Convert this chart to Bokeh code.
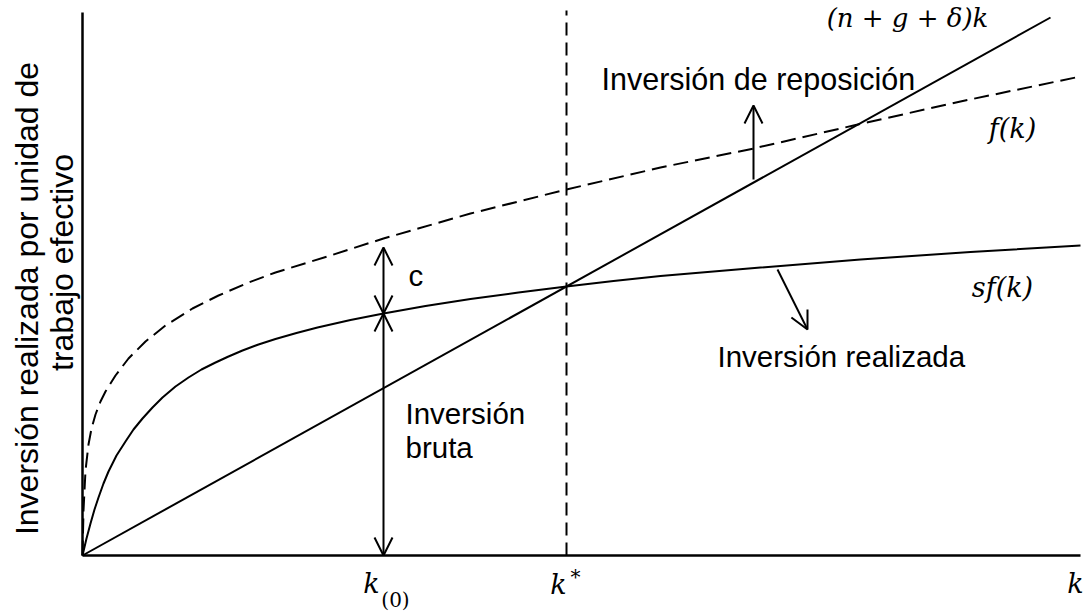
import math
from bokeh.plotting import figure
from bokeh.models import Range1d, Arrow, OpenHead
from bokeh.core.properties import value
from bokeh.embed import file_html
from bokeh.resources import INLINE

# Production function f(k), read along the capital axis
k_f = [0.00, 0.01, 0.03, 0.06, 0.09, 0.13, 0.18, 0.23, 0.33, 0.46, 0.63, 0.83,
       1.10, 1.36, 1.66, 1.93, 2.48, 3.01, 3.88, 4.84, 5.78, 6.71, 7.71, 8.78, 9.98]
f_k = [0.00, 0.45, 0.85, 1.11, 1.27, 1.41, 1.54, 1.64, 1.80, 1.97, 2.14, 2.30,
       2.47, 2.60, 2.73, 2.83, 3.00, 3.17, 3.42, 3.66, 3.88, 4.07, 4.30, 4.54, 4.79]

# Actual investment sf(k)
k_sf = [0.00, 0.04, 0.08, 0.12, 0.16, 0.21, 0.26, 0.34, 0.43, 0.51, 0.60, 0.70,
        0.80, 0.93, 1.06, 1.19, 1.33, 1.46, 1.60, 1.76, 1.93, 2.14, 2.35, 2.68,
        3.01, 3.43, 3.88, 4.36, 4.84, 5.31, 5.78, 6.78, 7.78, 8.88, 9.98]
sf_k = [0.00, 0.17, 0.32, 0.46, 0.58, 0.72, 0.84, 1.00, 1.14, 1.26, 1.37, 1.48,
        1.58, 1.69, 1.78, 1.86, 1.93, 1.99, 2.05, 2.11, 2.165, 2.225, 2.28, 2.355,
        2.42, 2.495, 2.565, 2.63, 2.69, 2.745, 2.795, 2.88, 2.96, 3.035, 3.10]

# Break-even investment (n + g + δ)k
k_be = [0.0, 9.68]
be_k = [0.0, 5.38]

# Marked capital levels
k_0 = 3.01
k_star = 4.84
k_max = 9.98
y_max = 5.43

INK = "#000000"
SANS = value("Liberation Sans")
SERIF = value("DejaVu Serif")

p = figure(width=1089, height=613, output_backend="svg", toolbar_location=None,
           x_range=Range1d(-0.82, 10.07), y_range=Range1d(-0.58, 5.55),
           min_border=0, outline_line_color=None)
p.axis.visible = False
p.grid.visible = False
p.background_fill_color = "white"
p.border_fill_color = "white"

# axes
p.line([0, 0], [0, y_max], line_color=INK, line_width=2.5)
p.line([0, k_max], [0, 0], line_color=INK, line_width=2.5)

# curves
p.line(k_f, f_k, line_color=INK, line_width=2, line_dash="15 7", line_join="round")
p.line(k_sf, sf_k, line_color=INK, line_width=2, line_join="round")
p.line(k_be, be_k, line_color=INK, line_width=2)

# steady state marker
p.line([k_star, k_star], [0, 5.45], line_color=INK, line_width=2, line_dash="13 7")


def head():
    return OpenHead(size=18, line_width=2, line_color=INK)


sf_k0 = sf_k[k_sf.index(k_0)]
# gross investment arrow at k(0)
p.add_layout(Arrow(start=head(), end=head(), x_start=k_0, y_start=0,
                   x_end=k_0, y_end=sf_k0, line_width=2, line_color=INK))
# consumption arrow between sf(k) and f(k)
p.add_layout(Arrow(start=head(), end=head(), x_start=k_0, y_start=sf_k0,
                   x_end=k_0, y_end=3.08, line_width=2, line_color=INK))
# replacement investment arrow
p.add_layout(Arrow(end=head(), x_start=6.71, y_start=3.76, x_end=6.71, y_end=4.50,
                   line_width=2, line_color=INK))
# actual investment pointer
p.add_layout(Arrow(end=head(), x_start=6.95, y_start=2.86, x_end=7.25, y_end=2.26,
                   line_width=2, line_color=INK))


def label(x, y, s, size, font=SANS, style="normal", align="left", angle=0.0):
    p.text(x=[x], y=[y], text=[s], text_font=font, text_font_size=f"{size}px",
           text_font_style=style, text_align=align, text_baseline="middle",
           text_color=INK, angle=angle)


# annotations
label(5.19, 4.77, "Inversión de reposición", 30.5)
label(3.23, 1.42, "Inversión", 29.5)
label(3.23, 1.08, "bruta", 29.5)
label(3.26, 2.80, "c", 29.5)
label(6.35, 1.99, "Inversión realizada", 29.5)

# math labels
label(8.25, 5.38, "(n + g + δ)k", 26, font=SERIF, style="italic", align="center")
label(9.30, 4.27, "f(k)", 27, font=SERIF, style="italic", align="center")
label(9.20, 2.68, "sf(k)", 27, font=SERIF, style="italic", align="center")
label(9.93, -0.28, "k", 27, font=SERIF, style="italic", align="center")
label(k_star - 0.08, -0.29, "k", 27, font=SERIF, style="italic", align="center")
label(k_star + 0.09, -0.21, "*", 20, font=SERIF, align="center")
label(k_0 - 0.12, -0.28, "k", 27, font=SERIF, style="italic", align="center")
label(k_0 + 0.12, -0.44, "(0)", 20, font=SERIF, align="center")

# vertical axis title
label(-0.56, 2.57, "Inversión realizada por unidad de", 32, align="center",
      angle=math.pi / 2)
label(-0.21, 2.93, "trabajo efectivo", 32, align="center", angle=math.pi / 2)

open("out.html", "w").write(file_html(p, INLINE))
